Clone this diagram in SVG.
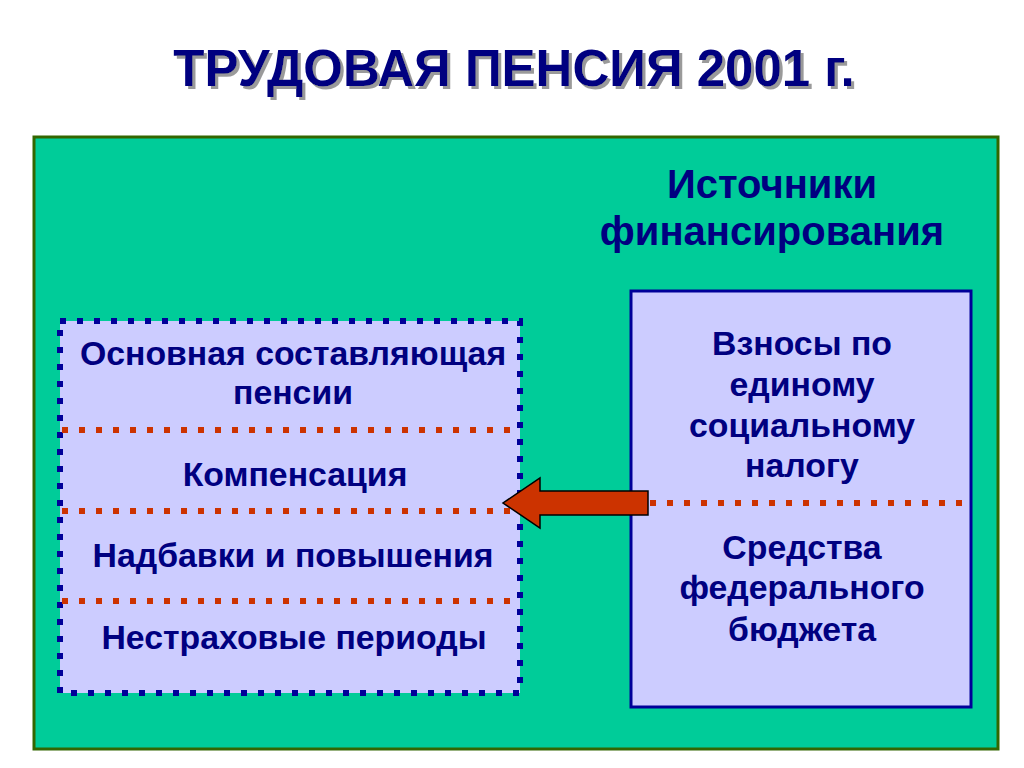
<svg xmlns="http://www.w3.org/2000/svg" width="1024" height="768" viewBox="0 0 1024 768">
<defs>
<style>
.t{font-family:"Liberation Sans",Arial,sans-serif;font-weight:bold;fill:#000080;text-anchor:middle}
.lbl{font-size:33.8px}
.hdr{font-size:40px}
.sep{stroke:#CC3300;stroke-width:6;stroke-dasharray:6 11}
</style>
<filter id="shadow" x="-5%" y="-20%" width="110%" height="150%">
<feFlood flood-color="#9A9A9A"/>
<feComposite in2="SourceAlpha" operator="in"/>
<feOffset dx="3" dy="3" result="sh"/>
<feMerge><feMergeNode in="sh"/><feMergeNode in="SourceGraphic"/></feMerge>
</filter>
</defs>
<rect width="1024" height="768" fill="#FFFFFF"/>
<g id="title">
<text class="t" x="514" y="86" font-size="51" filter="url(#shadow)">ТРУДОВАЯ ПЕНСИЯ 2001 г.</text>
</g>
<g id="panel">
<rect x="34" y="137" width="964" height="612" fill="#00CC99" stroke="#336600" stroke-width="3"/>
<text class="t hdr" x="772" y="198">Источники</text>
<text class="t hdr" x="772" y="245">финансирования</text>
</g>
<g id="pension">
<rect x="60" y="321" width="460" height="372" fill="#CCCCFF" stroke="#000099" stroke-width="6" stroke-dasharray="6 11"/>
<text class="t lbl" x="293" y="365">Основная составляющая</text>
<text class="t lbl" x="293" y="404">пенсии</text>
<text class="t lbl" x="295" y="486">Компенсация</text>
<text class="t lbl" x="293" y="567">Надбавки и повышения</text>
<text class="t lbl" x="294" y="649">Нестраховые периоды</text>
<line class="sep" x1="62" y1="430" x2="518" y2="430"/>
<line class="sep" x1="62" y1="511" x2="518" y2="511"/>
<line class="sep" x1="62" y1="601" x2="518" y2="601"/>
</g>
<g id="sources">
<rect x="631" y="291" width="340" height="416" fill="#CCCCFF" stroke="#000099" stroke-width="3"/>
<text class="t lbl" x="802" y="355">Взносы по</text>
<text class="t lbl" x="802" y="396">единому</text>
<text class="t lbl" x="802" y="437">социальному</text>
<text class="t lbl" x="802" y="477">налогу</text>
<text class="t lbl" x="802" y="559">Средства</text>
<text class="t lbl" x="802" y="599">федерального</text>
<text class="t lbl" x="802" y="641">бюджета</text>
<line class="sep" x1="650" y1="503" x2="966" y2="503"/>
</g>
<g id="connectors">
<polygon points="648,491 540,491 540,478 503,503 540,528 540,515 648,515" fill="#CC3300" stroke="#000000" stroke-width="1.5"/>
</g>
</svg>
